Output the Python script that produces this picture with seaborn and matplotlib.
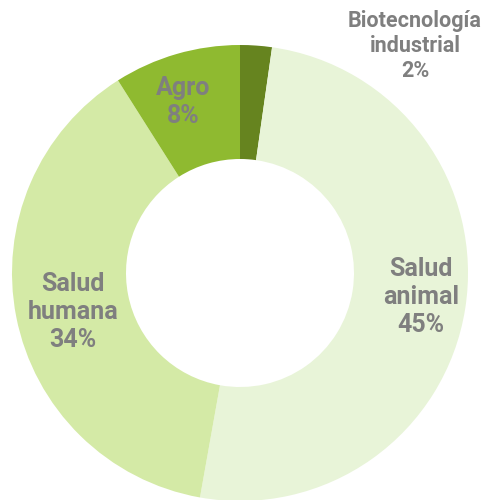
import matplotlib
matplotlib.use("Agg")
import matplotlib.pyplot as plt
import seaborn as sns

# Data
sectores = ["Biotecnología\nindustrial", "Salud\nanimal", "Salud\nhumana", "Agro"]
valores = [2, 45, 34, 8]
colores = ["#66841f", "#e8f4d8", "#d4eaa6", "#8fba30"]

sns.set_theme(style="white")
plt.rcParams["font.family"] = ["Roboto", "DejaVu Sans"]

fig = plt.figure(figsize=(4.86, 5.0), dpi=100)
ax = fig.add_axes([0, 0, 1, 1])

ax.pie(valores, colors=colores, startangle=90, counterclock=False,
       radius=1.0, wedgeprops=dict(width=0.5, edgecolor="none"))

# pixel layout: center (240, 273), radius 228 px
ax.set_xlim(-240 / 228, 246 / 228)
ax.set_ylim(-227 / 228, 273 / 228)
ax.set_aspect("equal")
ax.axis("off")

# label positions in pixels (x, y from top) and font sizes
posiciones = [(415, 46), (421, 297), (73, 312), (183, 102)]
tamanos = [15.5, 18, 18, 18]
espacios = [1.15, 1.22, 1.22, 1.22]
for nombre, v, (px, py), fs, ls in zip(sectores, valores, posiciones, tamanos, espacios):
    ax.text(px / 486, 1 - py / 500, f"{nombre}\n{v}%", transform=ax.transAxes,
            ha="center", va="center", fontsize=fs, fontweight="bold",
            color="#7f7f7f", linespacing=ls)

fig.savefig("out.png", dpi=100)
